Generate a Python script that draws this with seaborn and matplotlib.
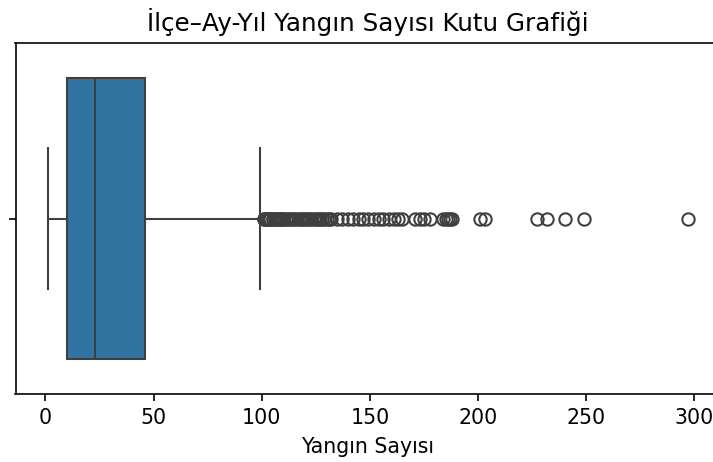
import numpy as np
import pandas as pd
import matplotlib
matplotlib.use("Agg")
import matplotlib.pyplot as plt
import seaborn as sns

# Frequency table of monthly fire counts per district (body of distribution)
deger = [1, 3, 6, 8, 10, 14, 18, 23, 28, 34, 40, 46, 55, 65, 75, 85, 99]
frekans = [40, 50, 60, 70, 80, 60, 70, 90, 60, 60, 60, 70, 50, 40, 30, 25, 15]

# Outlier values
aykiri = [101, 101, 102, 102, 103, 103, 104, 104, 105, 105, 106, 107, 108, 108,
          109, 110, 110, 111, 112, 113, 114, 115, 116, 117, 118, 119, 120, 121,
          122, 123, 124, 125, 126, 127, 128, 129, 130, 131, 132,
          135, 137, 140, 142, 145, 147, 149, 152, 154, 156, 159, 161, 163, 165,
          171, 173, 175, 178, 184, 185, 186, 187, 188,
          201, 203, 227, 232, 240, 249, 297]

veri = np.concatenate([np.repeat(deger, frekans), np.array(aykiri)])
df = pd.DataFrame({"Yangın Sayısı": veri})

DPI = 148
fig = plt.figure(figsize=(713 / DPI, 462 / DPI), dpi=DPI)
ax = fig.add_axes([15.5 / 713, 1 - 394 / 462, (720 - 15.5) / 713, (394 - 43) / 462])
sns.boxplot(data=df, x="Yangın Sayısı", ax=ax)
ax.set_title("İlçe–Ay-Yıl Yangın Sayısı Kutu Grafiği", fontsize=12)
ax.set_xlabel("Yangın Sayısı")
fig.savefig("out.png", dpi=DPI)
